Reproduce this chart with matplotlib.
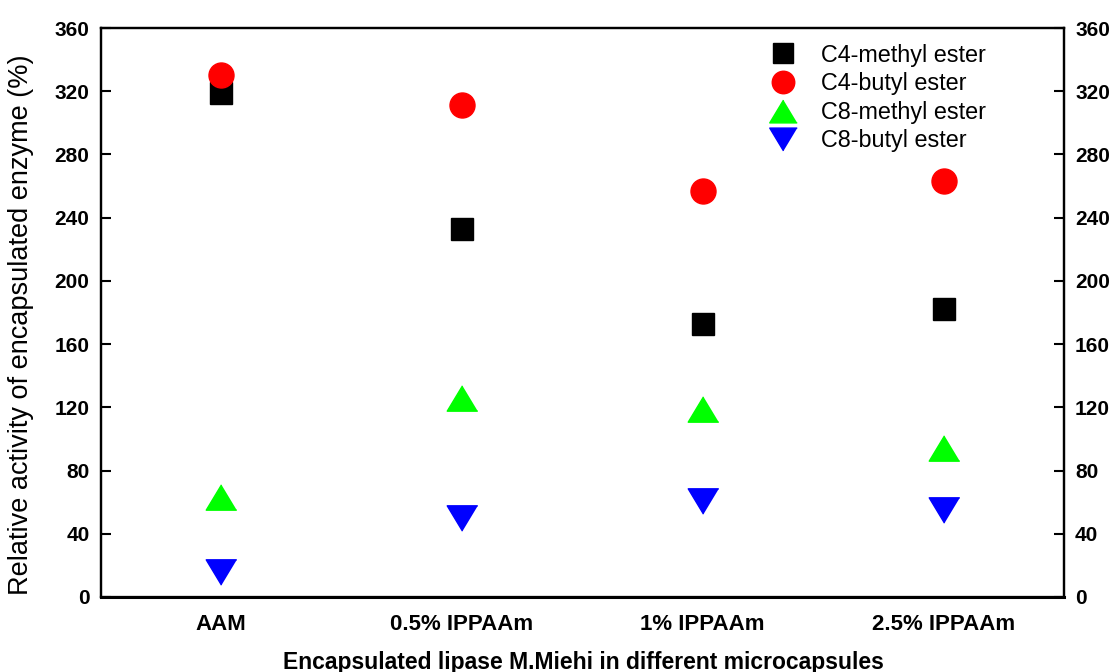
import matplotlib
matplotlib.use("Agg")
import matplotlib.pyplot as plt

# Data: relative activity (%) of encapsulated lipase for four substrates
categories = ["AAM", "0.5% IPPAAm", "1% IPPAAm", "2.5% IPPAAm"]
c4_methyl = [319, 233, 173, 182]
c4_butyl = [330, 311, 257, 263]
c8_methyl = [63, 126, 119, 94]
c8_butyl = [16, 50, 61, 55]
y_ticks = [0, 40, 80, 120, 160, 200, 240, 280, 320, 360]

plt.rcParams["font.family"] = ["Liberation Sans", "DejaVu Sans"]

fig = plt.figure(figsize=(11.2, 6.72), dpi=100)
ax = fig.add_axes([100.5 / 1120, 1 - 597 / 672, (1064 - 100.5) / 1120, (597 - 28) / 672])

x = list(range(len(categories)))
up_tri = [(0, 0.83), (-1, -0.83), (1, -0.83)]
down_tri = [(0, -0.83), (-1, 0.83), (1, 0.83)]

ax.plot(x, c4_methyl, ls="none", marker="s", ms=15.5, color="black", label="C4-methyl ester", zorder=3)
ax.plot(x, c4_butyl, ls="none", marker="o", ms=18, color="#ff0000", label="C4-butyl ester", zorder=4)
ax.plot(x, c8_methyl, ls="none", marker=up_tri, ms=22, color="#00ff00", label="C8-methyl ester", zorder=3)
ax.plot(x, c8_butyl, ls="none", marker=down_tri, ms=22, color="#0000ff", label="C8-butyl ester", zorder=3)

ax.set_xlim(-0.5, 3.5)
ax.set_ylim(0, 360)
ax.set_yticks(y_ticks)
ax.set_xticks(x)
ax.set_xticklabels(categories, fontweight="bold", fontsize=16)
ax.tick_params(axis="x", length=0, pad=12)
ax.tick_params(axis="y", direction="in", length=7, width=1.5, labelsize=15, pad=8)
for lbl in ax.get_yticklabels():
    lbl.set_fontweight("bold")

for sp in ax.spines.values():
    sp.set_linewidth(1.6)
ax.spines["bottom"].set_linewidth(2.2)

ax2 = ax.twinx()
ax2.set_ylim(0, 360)
ax2.set_yticks(y_ticks)
ax2.tick_params(axis="y", direction="in", length=7, width=1.5, labelsize=15, pad=8)
for lbl in ax2.get_yticklabels():
    lbl.set_fontweight("bold")
for sp in ax2.spines.values():
    sp.set_linewidth(1.6)

ax.set_ylabel("Relative activity of encapsulated enzyme (%)", fontsize=19.5)
ax.yaxis.set_label_coords(-0.069, 0.478)

fig.text(583 / 1120, 1 - 662 / 672, "Encapsulated lipase M.Miehi in different microcapsules",
         fontweight="bold", fontsize=16.5, ha="center", va="center")

ax.legend(loc="upper right", bbox_to_anchor=(0.935, 1.0), frameon=False, fontsize=16.8,
          handletextpad=0.6, labelspacing=0.24, borderaxespad=0.27, markerscale=0.9)

fig.savefig("out.png", dpi=100)
